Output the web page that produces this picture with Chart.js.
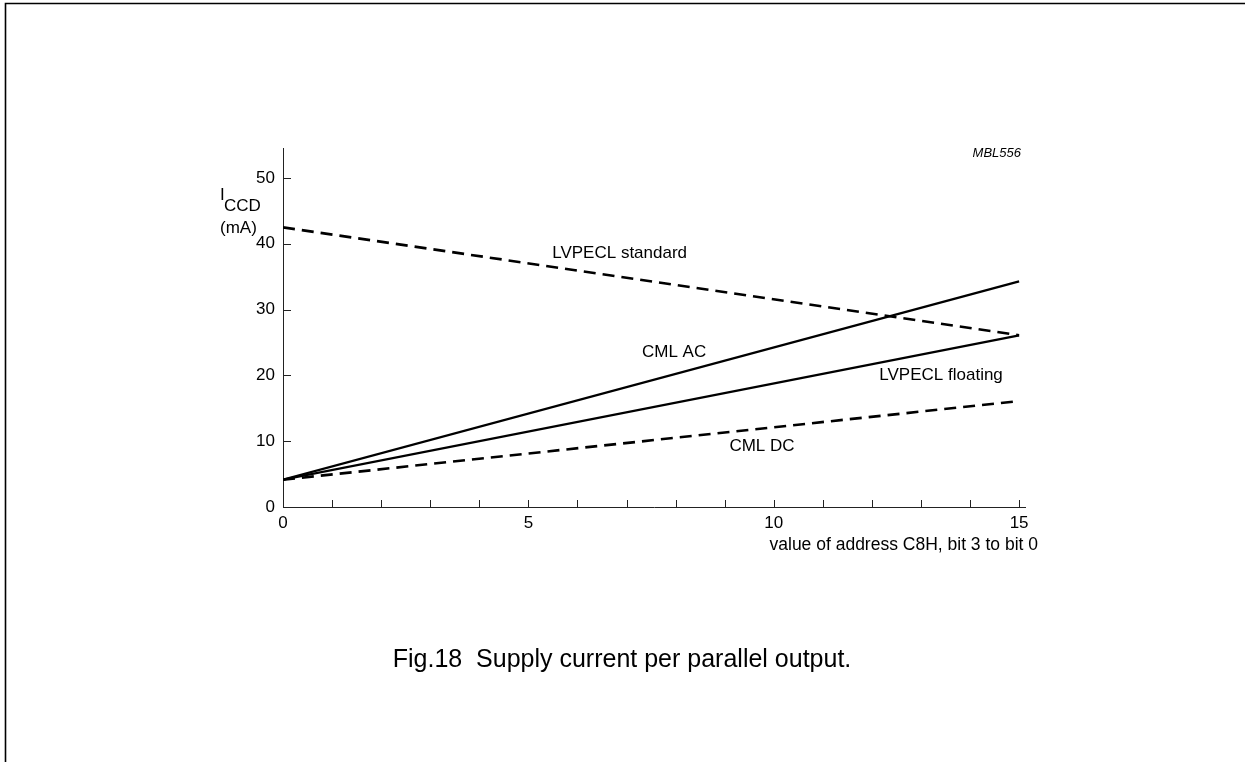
<!DOCTYPE html>
<html>
<head>
<meta charset="utf-8">
<script src="https://cdn.jsdelivr.net/npm/chart.js@4/dist/chart.umd.min.js"></script>
<style>
html,body{margin:0;padding:0;background:#fff;}
#wrap{width:1245px;height:762px;position:relative;}
</style>
</head>
<body>
<div id="wrap"><canvas id="c" width="1245" height="762"></canvas></div>
<script>
// ---- data ----
const xValues = [0, 15];                 // value of address C8H, bit 3 to bit 0
const lvpeclStandard = [42.5, 26.1];     // mA
const cmlAC = [4.15, 34.3];              // mA
const lvpeclFloating = [4.15, 26.1];     // mA
const cmlDC = [4.15, 16.1];              // mA
const seriesNames = ['LVPECL standard', 'CML AC', 'LVPECL floating', 'CML DC'];
const xTickValues = [0,1,2,3,4,5,6,7,8,9,10,11,12,13,14,15];
const xTickLabels = ['0','','','','','5','','','','','10','','','','','15'];
const yTickValues = [0,10,20,30,40,50];
const yTickLabels = ['0','10','20','30','40','50'];

// ---- styling / layout ----
const FONT = "'Liberation Sans', Arial, Helvetica, sans-serif";
const seriesStyle = [
  {dash:[12,7], width:2.6},
  {dash:[], width:2.3},
  {dash:[], width:2.3},
  {dash:[12,7], width:2.6}
];
// inline label anchors, in data coordinates
const labelAnchors = [
  {x:6.86, y:38.6},
  {x:7.97, y:23.45},
  {x:13.41, y:20.0},
  {x:9.76, y:9.17}
];

function pts(arr){ return xValues.map((x,i)=>({x:x, y:arr[i]})); }
const seriesData = [lvpeclStandard, cmlAC, lvpeclFloating, cmlDC];

const decor = {
  id:'decor',
  beforeDraw(chart){
    const ctx = chart.ctx;
    ctx.save();
    ctx.fillStyle = '#fff';
    ctx.fillRect(0,0,chart.width,chart.height);
    // page frame (top and left edges)
    ctx.strokeStyle = '#000';
    ctx.lineWidth = 1.6;
    ctx.beginPath();
    ctx.moveTo(5.5, chart.height);
    ctx.lineTo(5.5, 3.5);
    ctx.lineTo(chart.width, 3.5);
    ctx.stroke();
    ctx.restore();
  },
  afterDraw(chart){
    const ctx = chart.ctx;
    const xs = chart.scales.x, ys = chart.scales.y;
    const a = chart.chartArea;
    ctx.save();
    // inward tick marks
    ctx.strokeStyle = '#222';
    ctx.lineWidth = 1;
    ctx.beginPath();
    xTickValues.forEach(v=>{
      if (v === 0) return;
      const px = Math.round(xs.getPixelForValue(v)) + 0.5;
      ctx.moveTo(px, a.bottom);
      ctx.lineTo(px, a.bottom - 7);
    });
    yTickValues.forEach(v=>{
      if (v === 0) return;
      const py = Math.round(ys.getPixelForValue(v)) + 0.5;
      ctx.moveTo(a.left, py);
      ctx.lineTo(a.left + 8, py);
    });
    ctx.stroke();

    ctx.fillStyle = '#000';
    // series labels
    ctx.font = '17px ' + FONT;
    ctx.textAlign = 'center';
    ctx.textBaseline = 'middle';
    seriesNames.forEach((n,i)=>{
      ctx.fillText(n, xs.getPixelForValue(labelAnchors[i].x), ys.getPixelForValue(labelAnchors[i].y));
    });
    // x axis title
    ctx.textAlign = 'right';
    ctx.font = '17.5px ' + FONT;
    ctx.fillText('value of address C8H, bit 3 to bit 0', 1038, 545);
    // y axis title: I_CCD (mA)
    ctx.textAlign = 'left';
    ctx.textBaseline = 'alphabetic';
    ctx.font = '17px ' + FONT;
    ctx.fillText('I', 220, 200);
    ctx.fillText('CCD', 224, 211);
    ctx.fillText('(mA)', 220, 233);
    // figure code
    ctx.textAlign = 'right';
    ctx.textBaseline = 'middle';
    ctx.font = 'italic 13px ' + FONT;
    ctx.fillText('MBL556', 1021, 153);
    // caption
    ctx.textAlign = 'center';
    ctx.font = '25px ' + FONT;
    ctx.fillText('Fig.18  Supply current per parallel output.', 622, 660);
    ctx.restore();
  }
};

new Chart(document.getElementById('c'), {
  type: 'line',
  data: {
    datasets: seriesNames.map((n,i)=>({
      label: n,
      data: pts(seriesData[i]),
      borderColor: '#000',
      backgroundColor: '#000',
      borderWidth: seriesStyle[i].width,
      borderDash: seriesStyle[i].dash,
      pointRadius: 0,
      tension: 0,
      fill: false
    }))
  },
  options: {
    responsive: false,
    animation: false,
    devicePixelRatio: 1,
    layout: { padding: { left: 233, right: 220, top: 148, bottom: 225 } },
    plugins: { legend: {display:false}, tooltip: {enabled:false}, title:{display:false} },
    scales: {
      x: {
        type: 'linear', min: 0, max: 15.12,
        afterBuildTicks: s => { s.ticks = xTickValues.map(v=>({value:v})); },
        afterFit: s => { s.height = 30; },
        grid: { display:false, drawTicks:false },
        border: { display:true, color:'#222', width:1 },
        ticks: {
          autoSkip:false, maxRotation:0, minRotation:0, padding:6, color:'#000',
          font:{family:FONT, size:17},
          callback: (v)=> { const i = xTickValues.indexOf(v); return i >= 0 ? xTickLabels[i] : ''; }
        }
      },
      y: {
        type: 'linear', min: 0, max: 54.56,
        afterBuildTicks: s => { s.ticks = yTickValues.map(v=>({value:v})); },
        afterFit: s => { s.width = 50; },
        grid: { display:false, drawTicks:false },
        border: { display:true, color:'#222', width:1 },
        ticks: {
          padding:8, color:'#000',
          font:{family:FONT, size:17},
          callback: (v)=> { const i = yTickValues.indexOf(v); return i >= 0 ? yTickLabels[i] : ''; }
        }
      }
    }
  },
  plugins: [decor]
});
</script>
</body>
</html>
